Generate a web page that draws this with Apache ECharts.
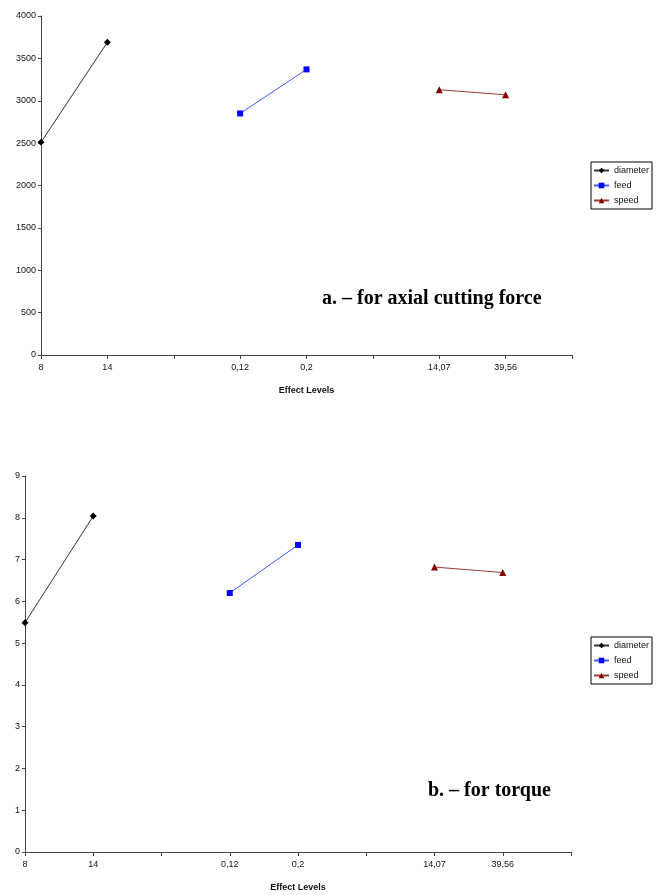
<!DOCTYPE html>
<html>
<head>
<meta charset="utf-8">
<script src="https://cdn.jsdelivr.net/npm/echarts@6/dist/echarts.min.js"></script>
<style>
html,body{margin:0;padding:0;background:#fff;}
#c{width:660px;height:895px;}
</style>
</head>
<body>
<div id="c"></div>
<script>
const categories = ['8', '14', '', '0,12', '0,2', '', '14,07', '39,56', ''];
const seriesNames = ['diameter', 'feed', 'speed'];

// (a) axial cutting force
const forceDiameter = [2510, 3690, null, null, null, null, null, null, null];
const forceFeed     = [null, null, null, 2850, 3370, null, null, null, null];
const forceSpeed    = [null, null, null, null, null, null, 3130, 3070, null];

// (b) torque
const torqueDiameter = [5.49, 8.04, null, null, null, null, null, null, null];
const torqueFeed     = [null, null, null, 6.20, 7.35, null, null, null, null];
const torqueSpeed    = [null, null, null, null, null, null, 6.82, 6.69, null];

const forceTicks = { min: 0, max: 4000, interval: 500 };
const torqueTicks = { min: 0, max: 9, interval: 1 };

const annotationA = 'a. – for axial cutting force';
const annotationB = 'b. – for torque';
const xAxisTitle = 'Effect Levels';

const styles = [
  { symbol: 'diamond', symbolSize: 7, color: '#000000', line: '#333333' },
  { symbol: 'rect', symbolSize: 6, color: '#0000ff', line: '#3a5cff' },
  { symbol: 'triangle', symbolSize: 7, color: '#800000', line: '#a03a3a' }
];

const FONT = 'Liberation Sans, Arial, sans-serif';

function mkSeries(data, idx, axisIdx) {
  const s = styles[idx];
  return {
    name: seriesNames[idx], type: 'line', data: data,
    xAxisIndex: axisIdx, yAxisIndex: axisIdx,
    symbol: s.symbol, symbolSize: s.symbolSize,
    showAllSymbol: true, connectNulls: false,
    itemStyle: { color: s.color },
    lineStyle: { color: s.line, width: 1 },
    emphasis: { disabled: true },
    animation: false
  };
}

function mkX(gridIndex) {
  return {
    type: 'category', gridIndex: gridIndex, data: categories, boundaryGap: false,
    axisLine: { lineStyle: { color: '#444', width: 1 } },
    axisTick: { show: true, interval: 0, length: 4, lineStyle: { color: '#444' } },
    axisLabel: { interval: 0, fontFamily: FONT, fontSize: 9, color: '#111', margin: 8 },
    name: xAxisTitle, nameLocation: 'middle', nameGap: 31,
    nameTextStyle: { fontFamily: FONT, fontSize: 9, fontWeight: 'bold', color: '#111' },
    splitLine: { show: false }
  };
}

function mkY(gridIndex, t) {
  return {
    type: 'value', gridIndex: gridIndex, min: t.min, max: t.max, interval: t.interval,
    axisLine: { show: true, lineStyle: { color: '#444', width: 1 } },
    axisTick: { show: true, length: 3, lineStyle: { color: '#444' } },
    axisLabel: { fontFamily: FONT, fontSize: 9, color: '#111', margin: 5, formatter: v => String(v) },
    splitLine: { show: false }
  };
}

function mkLegend(top) {
  return {
    data: seriesNames, left: 591, top: top, orient: 'vertical',
    itemWidth: 15, itemHeight: 7, itemGap: 6,
    borderColor: '#000', borderWidth: 1, padding: [4, 3, 4, 2],
    textStyle: { fontFamily: FONT, fontSize: 9, color: '#111' },
    selectedMode: false
  };
}

const chart = echarts.init(document.getElementById('c'), null, { renderer: 'canvas' });
chart.setOption({
  backgroundColor: '#ffffff',
  animation: false,
  grid: [
    { left: 41, right: 88, top: 16, height: 339 },
    { left: 25, right: 89, top: 476, height: 376 }
  ],
  xAxis: [mkX(0), mkX(1)],
  yAxis: [mkY(0, forceTicks), mkY(1, torqueTicks)],
  legend: [mkLegend(162), mkLegend(637)],
  series: [
    mkSeries(forceDiameter, 0, 0),
    mkSeries(forceFeed, 1, 0),
    mkSeries(forceSpeed, 2, 0),
    mkSeries(torqueDiameter, 0, 1),
    mkSeries(torqueFeed, 1, 1),
    mkSeries(torqueSpeed, 2, 1)
  ],
  graphic: [
    { type: 'text', left: 322, top: 289, style: { text: annotationA, font: 'bold 20px "Liberation Serif", "Times New Roman", serif', fill: '#000' } },
    { type: 'text', left: 428, top: 781, style: { text: annotationB, font: 'bold 20px "Liberation Serif", "Times New Roman", serif', fill: '#000' } }
  ]
});
</script>
</body>
</html>
